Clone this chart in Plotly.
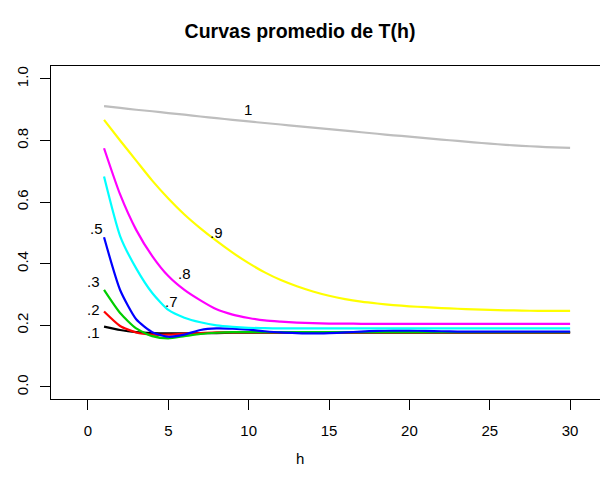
import plotly.graph_objects as go

h = list(range(1, 31))

s_01 = [0.196, 0.185, 0.178, 0.175, 0.174, 0.174, 0.175, 0.175, 0.176, 0.176,
        0.176, 0.176, 0.176, 0.176, 0.176, 0.176, 0.176, 0.176, 0.176, 0.176,
        0.176, 0.176, 0.176, 0.176, 0.176, 0.176, 0.176, 0.176, 0.176, 0.176]
s_02 = [0.245, 0.198, 0.177, 0.170, 0.170, 0.173, 0.175, 0.177, 0.177, 0.177,
        0.177, 0.177, 0.177, 0.177, 0.177, 0.177, 0.177, 0.177, 0.177, 0.177,
        0.177, 0.177, 0.177, 0.177, 0.177, 0.177, 0.177, 0.177, 0.177, 0.177]
s_03 = [0.315, 0.240, 0.190, 0.165, 0.158, 0.165, 0.172, 0.176, 0.178, 0.178,
        0.178, 0.178, 0.178, 0.178, 0.178, 0.178, 0.178, 0.178, 0.178, 0.178,
        0.178, 0.178, 0.178, 0.178, 0.178, 0.178, 0.178, 0.178, 0.178, 0.178]
s_05 = [0.486, 0.315, 0.220, 0.178, 0.163, 0.170, 0.185, 0.190, 0.189, 0.186,
        0.181, 0.177, 0.175, 0.174, 0.175, 0.177, 0.180, 0.182, 0.183, 0.183,
        0.182, 0.181, 0.180, 0.180, 0.180, 0.180, 0.180, 0.180, 0.180, 0.180]
s_07 = [0.683, 0.490, 0.385, 0.305, 0.250, 0.225, 0.210, 0.200, 0.195, 0.192,
        0.191, 0.190, 0.190, 0.190, 0.190, 0.190, 0.190, 0.190, 0.190, 0.190,
        0.190, 0.190, 0.190, 0.190, 0.190, 0.190, 0.190, 0.190, 0.190, 0.190]
s_08 = [0.775, 0.625, 0.510, 0.425, 0.360, 0.315, 0.281, 0.252, 0.235, 0.224,
        0.216, 0.212, 0.209, 0.207, 0.206, 0.206, 0.205, 0.205, 0.205, 0.205,
        0.205, 0.205, 0.205, 0.205, 0.205, 0.205, 0.205, 0.205, 0.205, 0.205]
s_09 = [0.867, 0.800, 0.735, 0.670, 0.612, 0.560, 0.515, 0.474, 0.436, 0.402,
        0.372, 0.347, 0.327, 0.310, 0.296, 0.285, 0.277, 0.271, 0.266, 0.262,
        0.259, 0.256, 0.254, 0.252, 0.250, 0.249, 0.248, 0.247, 0.247, 0.247]
s_1 = [0.912, 0.906, 0.900, 0.895, 0.889, 0.884, 0.878, 0.873, 0.867, 0.862,
       0.857, 0.852, 0.847, 0.842, 0.837, 0.832, 0.827, 0.822, 0.817, 0.813,
       0.808, 0.803, 0.799, 0.794, 0.790, 0.786, 0.783, 0.780, 0.778, 0.776]

series = [s_01, s_02, s_03, s_05, s_07, s_08, s_09, s_1]
colors = ["#000000", "#FF0000", "#00CD00", "#0000FF", "#00FFFF", "#FF00FF", "#FFFF00", "#BEBEBE"]

label_text = [".1", ".2", ".3", ".5", ".7", ".8", ".9", "1"]
label_x = [0.35, 0.35, 0.35, 0.53, 5.2, 6.0, 8.0, 9.96]
label_y = [0.178, 0.250, 0.344, 0.516, 0.276, 0.370, 0.500, 0.900]

x_ticks = [0, 5, 10, 15, 20, 25, 30]
y_ticks = [0.0, 0.2, 0.4, 0.6, 0.8, 1.0]

FONT = "Liberation Sans, Arial, Helvetica, sans-serif"

fig = go.Figure()
for s, c in zip(series, colors):
    fig.add_trace(go.Scatter(x=h, y=s, mode="lines",
                             line=dict(color=c, width=2.2, shape="spline", smoothing=0.6),
                             showlegend=False, hoverinfo="skip"))

for t, x, y in zip(label_text, label_x, label_y):
    fig.add_annotation(x=x, y=y, text=t, showarrow=False, xref="x", yref="y",
                       font=dict(size=15, color="black", family=FONT))

# x-axis title "h" (paper coords relative to plot area 51..600 x 66..399)
fig.add_annotation(x=(300 - 51) / 549, y=(399 - 458) / 333, xref="paper", yref="paper",
                   text="h", showarrow=False, font=dict(size=15, color="black", family=FONT),
                   xanchor="center", yanchor="middle")

fig.update_layout(
    width=600, height=480,
    margin=dict(l=51, r=0, t=66, b=81, pad=0),
    paper_bgcolor="white", plot_bgcolor="white",
    font=dict(family=FONT, size=15, color="black"),
    title=dict(text="<b>Curvas promedio de T(h)</b>", x=0.5, xref="container",
               y=1 - 31 / 480, yref="container", xanchor="center", yanchor="middle",
               font=dict(size=19.5, family=FONT, color="black")),
)

fig.update_xaxes(range=[-2.30, 31.86], tickvals=x_ticks, ticktext=[str(v) for v in x_ticks],
                 showgrid=False, zeroline=False, showline=True, linecolor="black", linewidth=1,
                 mirror=True, ticks="outside", ticklen=10, tickcolor="black", tickwidth=1,
                 ticklabelstandoff=8, automargin=False,
                 tickfont=dict(size=15, family=FONT, color="black"))
fig.update_yaxes(range=[-0.039, 1.042], tickvals=y_ticks, ticktext=[f"{v:.1f}" for v in y_ticks],
                 showgrid=False, zeroline=False, showline=True, linecolor="black", linewidth=1,
                 ticks="outside", ticklen=10, tickcolor="black", tickwidth=1, tickangle=-90,
                 ticklabelstandoff=6, automargin=False,
                 tickfont=dict(size=15, family=FONT, color="black"))

fig.write_html("out.html", config={"displayModeBar": False},
               post_script="document.body.style.margin='0';")
